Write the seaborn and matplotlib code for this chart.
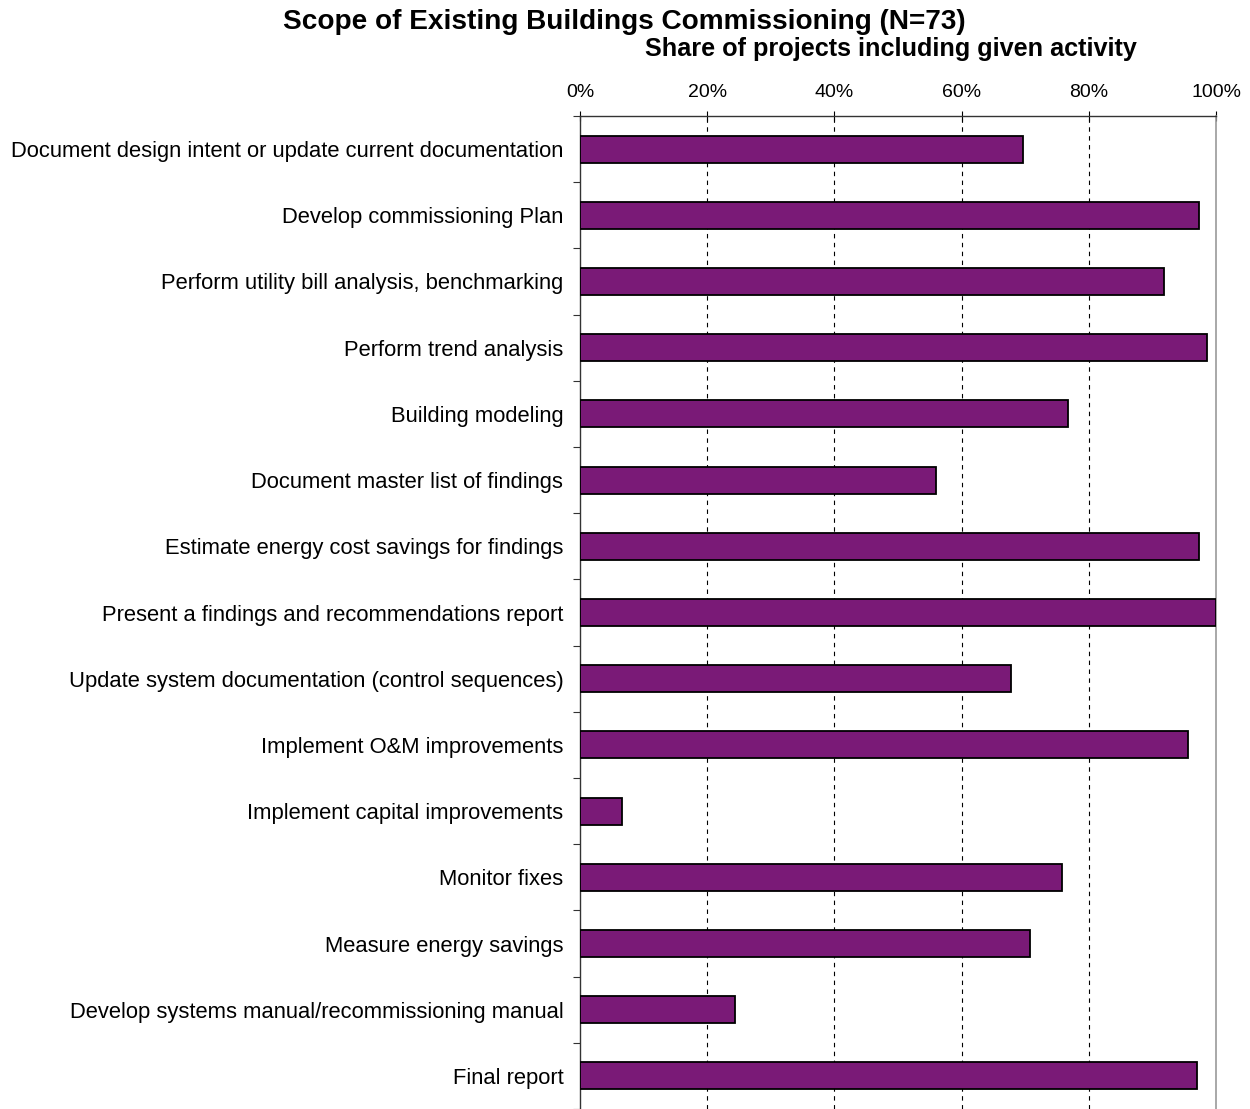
import numpy as np
import pandas as pd
import matplotlib
matplotlib.use("Agg")
import matplotlib.pyplot as plt
import seaborn as sns
from matplotlib.ticker import FuncFormatter

categories = [
    "Document design intent or update current documentation",
    "Develop commissioning Plan",
    "Perform utility bill analysis, benchmarking",
    "Perform trend analysis",
    "Building modeling",
    "Document master list of findings",
    "Estimate energy cost savings for findings",
    "Present a findings and recommendations report",
    "Update system documentation (control sequences)",
    "Implement O&M improvements",
    "Implement capital improvements",
    "Monitor fixes",
    "Measure energy savings",
    "Develop systems manual/recommissioning manual",
    "Final report",
]
values = [69.6, 97.3, 91.8, 98.6, 76.8, 56.0, 97.3, 100.0, 67.8, 95.6, 6.6, 75.8, 70.8, 24.3, 97.0]
x_ticks = [0, 20, 40, 60, 80, 100]

df = pd.DataFrame({"activity": categories, "share": values})

sns.set_theme(style="white")
plt.rcParams['font.family'] = ['Liberation Sans', 'DejaVu Sans']
plt.rcParams['text.color'] = 'black'
plt.rcParams['xtick.color'] = 'black'
plt.rcParams['ytick.color'] = 'black'
plt.rcParams['xtick.labelcolor'] = 'black'
plt.rcParams['ytick.labelcolor'] = 'black'

fig = plt.figure(figsize=(12.5, 11.09), dpi=100)
ax = fig.add_axes([580/1250, 0.0, 636/1250, 1 - 116/1109])

sns.barplot(data=df, x="share", y="activity", orient="h", color="#7A1A77",
            saturation=1, width=0.41, edgecolor="black", linewidth=1.3, ax=ax, zorder=3)

ax.set_xlim(0, 100)
ax.set_ylim(14.5, -0.5)
ax.xaxis.tick_top()
ax.set_xticks(x_ticks)
ax.xaxis.set_major_formatter(FuncFormatter(lambda v, p: f"{int(v)}%"))
ax.tick_params(axis="x", which="major", direction="inout", length=7, width=0.8,
               color="black", labelsize=14, pad=7, top=True, bottom=False)
ax.tick_params(axis="y", which="major", length=0, labelsize=15.8, pad=12, left=True)
ax.set_yticks(np.arange(-0.5, 15, 1), minor=True)
ax.tick_params(axis="y", which="minor", direction="out", length=5, width=0.8, color="#333333", left=True)

for g in [20, 40, 60, 80]:
    ax.axvline(g, color="black", lw=0.8, ls=(0, (4, 4)), zorder=1)

ax.set_xlabel("")
ax.set_ylabel("")
ax.spines["bottom"].set_visible(False)
ax.spines["top"].set_color("#333333")
ax.spines["top"].set_linewidth(1.0)
ax.spines["left"].set_color("#333333")
ax.spines["left"].set_linewidth(1.0)
ax.spines["right"].set_color("#999999")
ax.spines["right"].set_linewidth(1.2)

fig.text(624/1250, 1 - 22/1109, "Scope of Existing Buildings Commissioning (N=73)",
         ha="center", va="center", fontsize=20.2, fontweight="bold")
fig.text(891/1250, 1 - 49/1109, "Share of projects including given activity",
         ha="center", va="center", fontsize=18.2, fontweight="bold")

fig.savefig("out.png", dpi=100)
